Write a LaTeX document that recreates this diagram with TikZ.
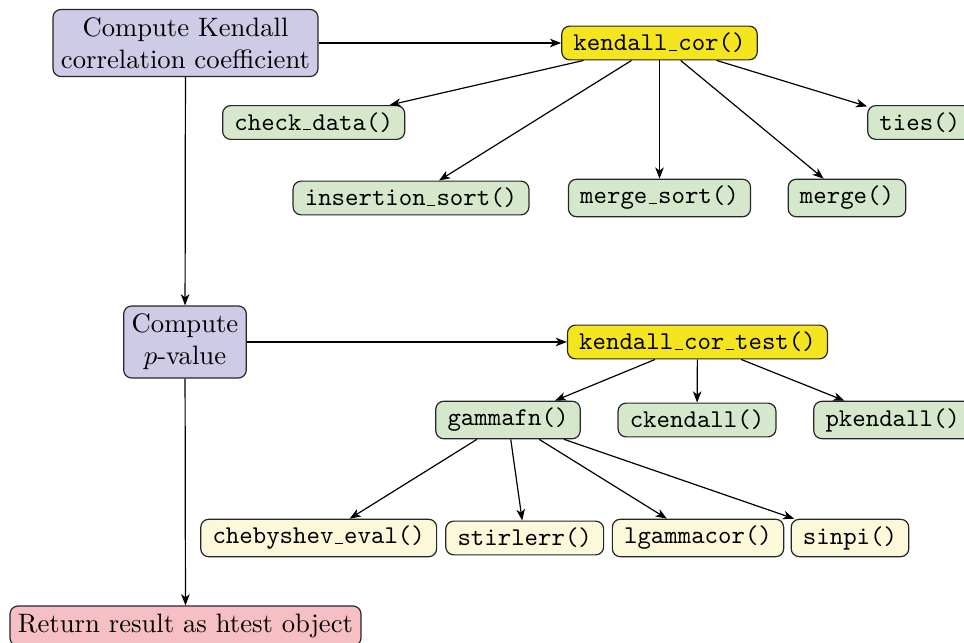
\documentclass[tikz,border=0pt]{standalone}
\usetikzlibrary{arrows.meta}
\definecolor{lav}{HTML}{CDCBE6}
\definecolor{ylw}{HTML}{F5E51E}
\definecolor{grn}{HTML}{D5E8CB}
\definecolor{lyl}{HTML}{FCF8DA}
\definecolor{pnk}{HTML}{F6BFC3}
\newcommand{\usc}{\leavevmode\kern.06em\vbox{\hrule width.3em height 0.45pt}\kern.06em}
\begin{document}
\begin{tikzpicture}[x=0.375pt,y=-0.375pt,
  base/.style={draw=black!85, rounded corners=3pt, line width=0.45pt},
  stage/.style={base, fill=lav, align=center, inner xsep=3pt, inner ysep=3pt, font=\fontsize{10}{12}\selectfont},
  fn/.style={base, inner xsep=4.4pt, inner ysep=2.6pt, font=\fontsize{9.6}{11}\selectfont\ttfamily},
  mainfn/.style={fn, fill=ylw},
  helper/.style={fn, fill=grn},
  leaf/.style={fn, fill=lyl},
  arr/.style={-{Stealth[length=4.2pt,width=3.2pt,inset=1.2pt]}, line width=0.45pt}
]
\useasboundingbox (0,0) rectangle (964,643);
% stages
\node[stage] (ck) at (185.5,43) {Compute Kendall\\correlation coefficient};
\node[stage] (cp) at (185,342) {Compute\\$p$-value};
\node[stage, fill=pnk] (ret) at (185.5,626) {Return result as htest object};
% kendall_cor
\node[mainfn] (kc) at (659.5,43) {kendall\usc cor()};
\node[helper] (cd) at (313.7,122.5) {check\usc data()};
\node[helper] (ti) at (919.8,122.5) {ties()};
\node[helper] (is) at (411,198) {insertion\usc sort()};
\node[helper] (ms) at (659.5,198) {merge\usc sort()};
\node[helper] (mg) at (847,198) {merge()};
% kendall_cor_test
\node[mainfn] (kt) at (697.5,342) {kendall\usc cor\usc test()};
\node[helper] (gf) at (508,420) {gammafn()};
\node[helper] (cke) at (697,420) {ckendall()};
\node[helper] (pke) at (892.7,420) {pkendall()};
\node[leaf] (ce) at (318.7,538) {chebyshev\usc eval()};
\node[leaf] (st) at (524.7,538) {stirlerr()};
\node[leaf] (lg) at (698,538) {lgammacor()};
\node[leaf] (sp) at (850,538) {sinpi()};
% connectors
\draw[arr] (ck) -- (kc);
\draw[arr] (ck) -- (cp);
\draw[arr] (cp) -- (kt);
\draw[arr] (cp) -- (ret);
\draw[arr] (kc) -- (cd);
\draw[arr] (kc) -- (ti);
\draw[arr] (kc) -- (is);
\draw[arr] (kc) -- (ms);
\draw[arr] (kc) -- (mg);
\draw[arr] (kt) -- (gf);
\draw[arr] (kt) -- (cke);
\draw[arr] (kt) -- (pke);
\draw[arr] (gf) -- (ce);
\draw[arr] (gf) -- (st);
\draw[arr] (gf) -- (lg);
\draw[arr] (gf) -- (sp);
\end{tikzpicture}
\end{document}
